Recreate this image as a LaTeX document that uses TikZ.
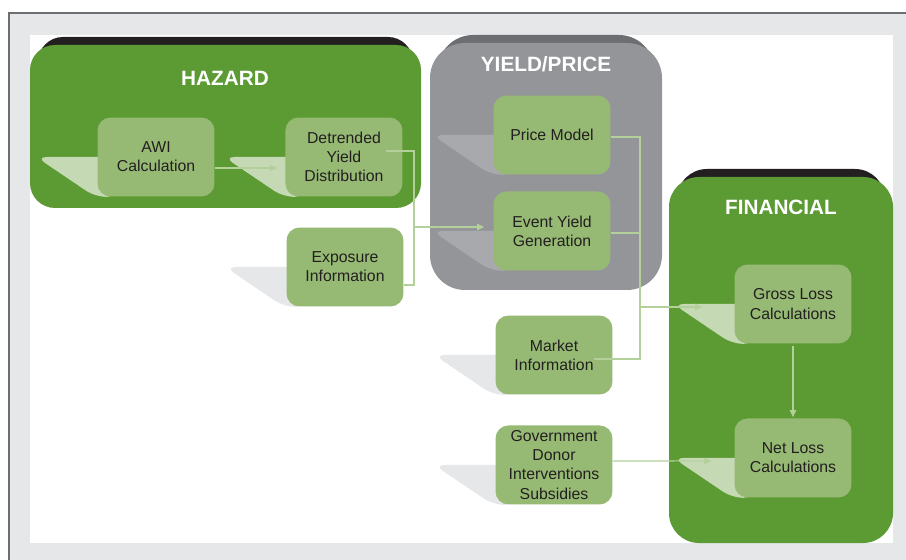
\documentclass[tikz,border=0pt]{standalone}
\usepackage{fontspec}
\setmainfont{Liberation Sans}
\usetikzlibrary{arrows.meta}

\definecolor{leaf}{RGB}{92,154,51}
\definecolor{sage}{RGB}{150,186,116}
\definecolor{slate}{RGB}{147,149,152}
\definecolor{darkslate}{RGB}{109,110,113}
\definecolor{ink}{RGB}{35,31,32}
\definecolor{mist}{RGB}{230,231,232}
\definecolor{pale}{RGB}{197,217,180}
\definecolor{ash}{RGB}{167,169,172}
\definecolor{wirecol}{RGB}{179,208,155}

\pgfdeclarelayer{back}
\pgfdeclarelayer{tails}
\pgfsetlayers{back,tails,main}

\begin{document}
\begin{tikzpicture}[x=0.02cm,y=-0.02cm,>={Triangle[length=4pt,width=3.6pt]},
  block/.style={rectangle,rounded corners=0.26cm,fill=sage,text=ink,align=center,
    minimum width=2.34cm,minimum height=1.58cm,inner sep=0pt,
    font=\fontsize{9}{10.9}\selectfont},
  title/.style={text=white,font=\fontsize{11.8}{14}\selectfont\bfseries},
  wire/.style={draw=wirecol,line width=0.6pt}]
  \useasboundingbox (0,0) rectangle (906,560);

  \node[block] (awi) at (156,157) {AWI\\Calculation};
  \node[block] (detrend) [right of=awi,node distance=3.76cm] {Detrended\\Yield\\Distribution};
  \node[block] (exposure) at (345,267) {Exposure\\Information};
  \node[block] (price) at (552,135) {Price Model};
  \node[block] (event) [below of=price,node distance=1.92cm] {Event Yield\\Generation};
  \node[block] (market) at (554,355) {Market\\Information};
  \node[block] (gov) [below of=market,node distance=2.2cm] {Government\\Donor\\Interventions\\Subsidies};
  \node[block] (gross) at (793,304) {Gross Loss\\Calculations};
  \node[block] (net) [below of=gross,node distance=3.08cm] {Net Loss\\Calculations};

  \node[title] (hazard) at (225,78) {HAZARD};
  \node[title] (yield) at (546,64) {YIELD/PRICE};
  \node[title] (financial) at (781,207) {FINANCIAL};

  \begin{pgfonlayer}{back}
    \fill[mist] (9,13) rectangle (906,560);
    \draw[darkslate,line width=0.7pt] (906,13) -- (9,13) -- (9,560);
    \fill[white] (30,35) rectangle (893,543);
    \fill[ink,rounded corners=0.5cm] (38,37) rectangle (413,140);
    \fill[leaf,rounded corners=0.5cm] (30,45) rectangle (421,208);
    \fill[darkslate,rounded corners=0.7cm] (438,35) rectangle (654,140);
    \fill[slate,rounded corners=0.7cm] (430,43) rectangle (662,290);
    \fill[ink,rounded corners=0.6cm] (677,169) rectangle (885,300);
    \fill[leaf,rounded corners=0.6cm] (669,177) rectangle (893,543);
  \end{pgfonlayer}

  \begin{pgfonlayer}{tails}
    \foreach \n/\c in {awi/pale,detrend/pale,price/ash,event/ash,exposure/mist,
                       market/mist,gov/mist,gross/pale,net/pale}
      \fill[\c,rounded corners=6pt] ([xshift=0.4cm]\n.west) -- ([xshift=-1.22cm]\n.west)
        -- ([xshift=-0.04cm]\n.south west) -- ([xshift=0.4cm]\n.south west) -- cycle;
  \end{pgfonlayer}

  \coordinate (hazjoin) at (414,227);
  \coordinate (finjoin) at (640,307);

  \draw[wire,->] ([yshift=-0.22cm]awi.east) -- ([xshift=-0.16cm,yshift=-0.22cm]detrend.west);
  \draw[wire] ([xshift=-0.34cm,yshift=0.12cm]detrend.east) -| (hazjoin);
  \draw[wire] ([yshift=-0.36cm]exposure.east) -| (hazjoin);
  \draw[wire,->] (hazjoin) -- ([xshift=-0.18cm]event.west |- hazjoin);
  \draw[wire] ([yshift=-0.04cm]price.east) -| (finjoin);
  \draw[wire] ([yshift=-0.04cm]event.east) -| (finjoin);
  \draw[wire] ([xshift=-0.38cm,yshift=-0.08cm]market.east) -| (finjoin);
  \draw[wire,->] (finjoin) -- ([xshift=-0.64cm]gross.west |- finjoin);
  \draw[wire,->] ([yshift=0.08cm]gov.east) -- ([xshift=-0.46cm,yshift=-0.06cm]net.west);
  \draw[wire,->] ([yshift=-0.04cm]gross.south) -- ([yshift=0.02cm]net.north);
\end{tikzpicture}
\end{document}
